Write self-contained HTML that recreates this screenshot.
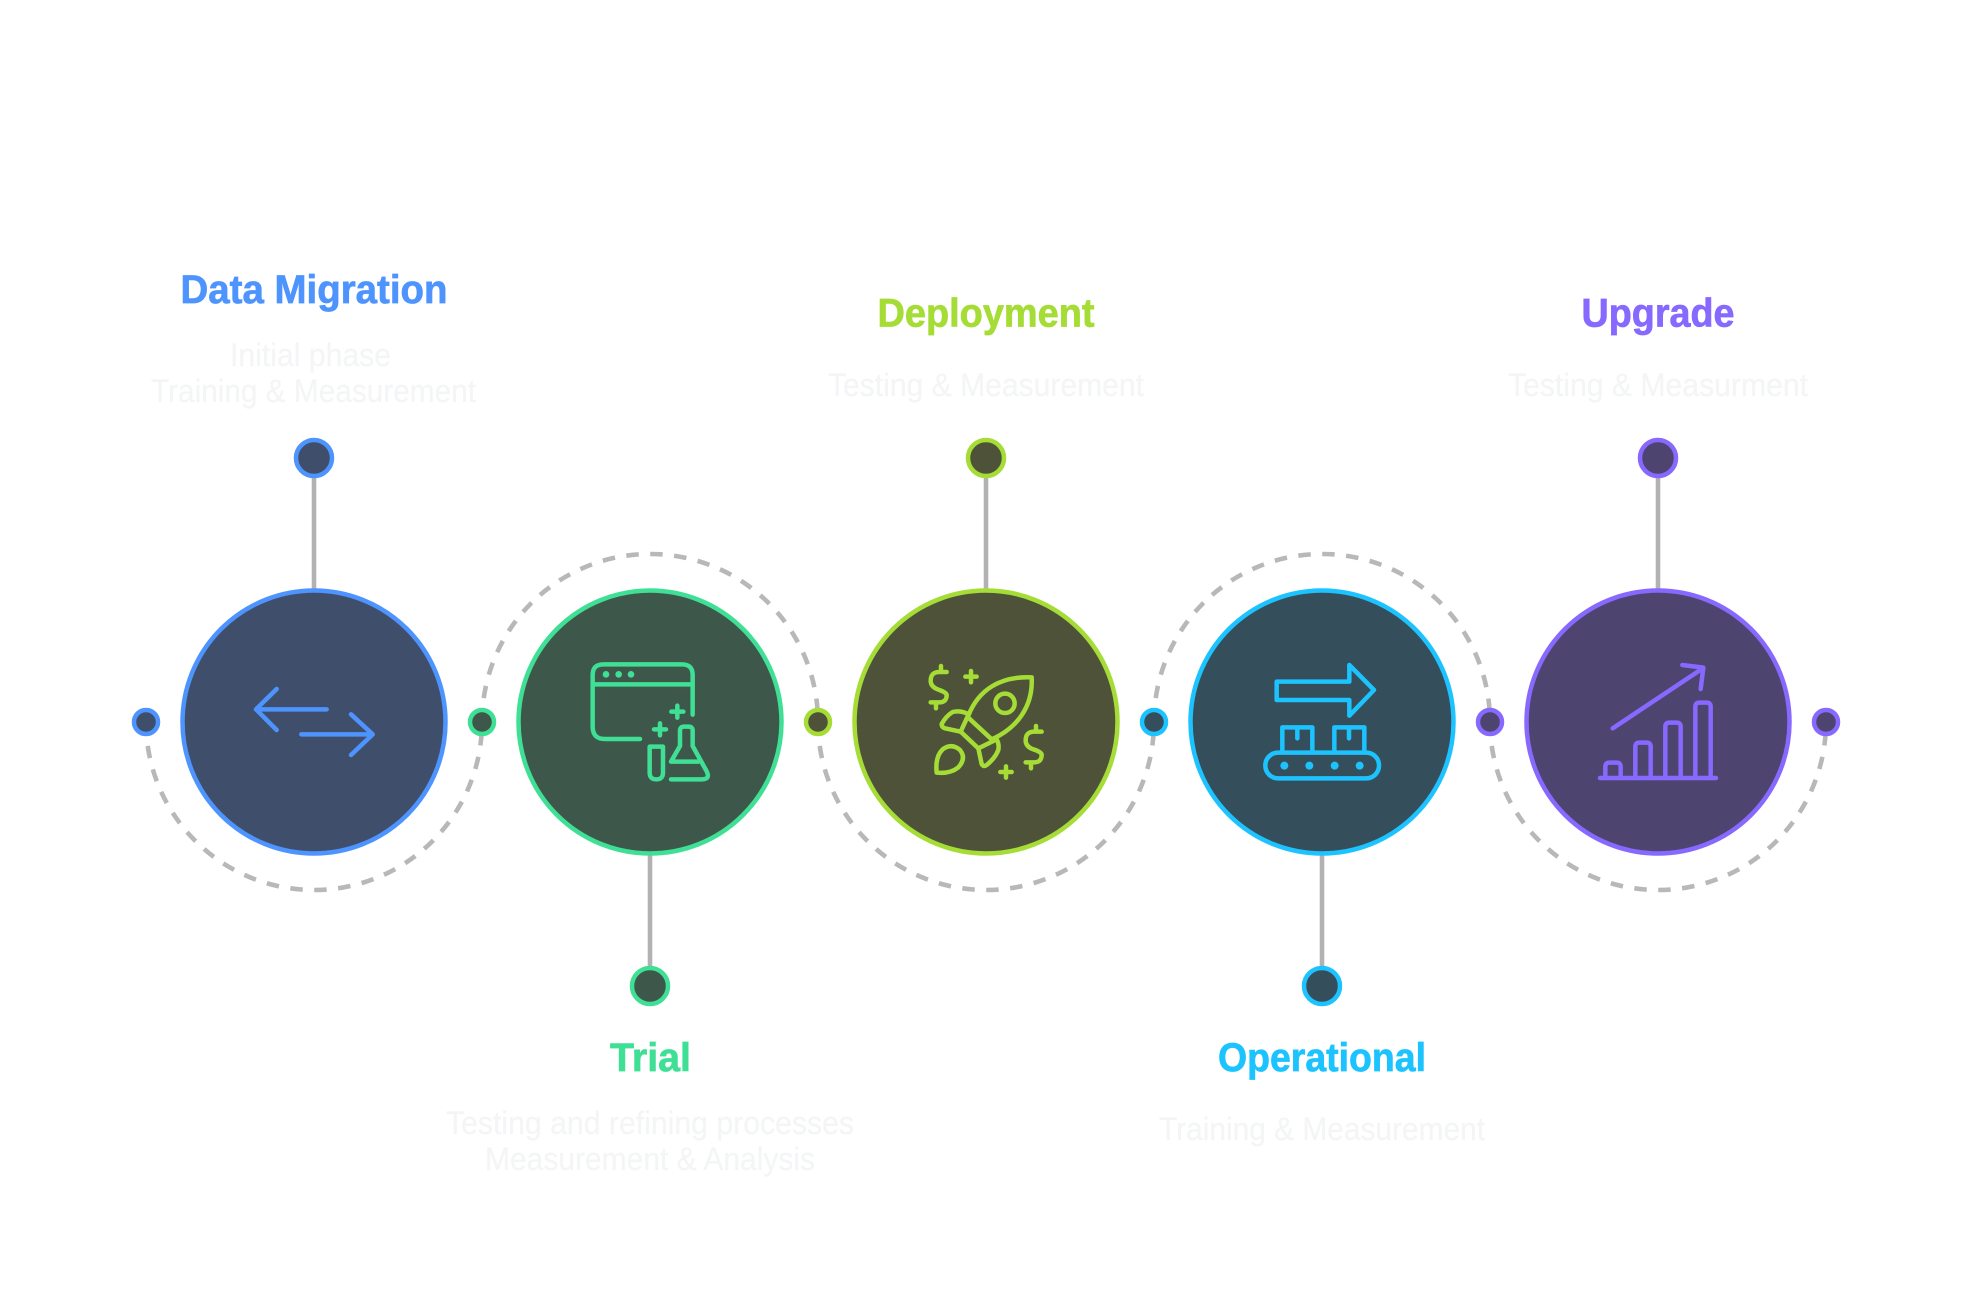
<!DOCTYPE html>
<html lang="en">
<head>
<meta charset="utf-8">
<title>Data Migration Timeline</title>
<style>
html,body{margin:0;padding:0;background:#fff;width:1972px;height:1300px;overflow:hidden}
svg{display:block}
text{font-family:"Liberation Sans",Arial,sans-serif}
.h{font-size:40px;font-weight:700;stroke-width:.7px}
.d{font-size:32px;fill:#F4F5F6;stroke:#F4F5F6;stroke-width:.3px}
.ic{fill:none;stroke-width:13.5;stroke-linecap:round;stroke-linejoin:round}
</style>
</head>
<body>
<svg width="1972" height="1300" viewBox="0 0 1972 1300" xmlns="http://www.w3.org/2000/svg">
<rect width="1972" height="1300" fill="#fff"/>

<!-- dashed arcs -->
<g fill="none" stroke="#B8B8B8" stroke-width="4.6" stroke-dasharray="12.5 11.5">
<path d="M146 722A168 168 0 0 0 482 722"/>
<path d="M482 722A168 168 0 0 1 818 722"/>
<path d="M818 722A168 168 0 0 0 1154 722"/>
<path d="M1154 722A168 168 0 0 1 1490 722"/>
<path d="M1490 722A168 168 0 0 0 1826 722"/>
</g>

<!-- stems -->
<g stroke="#B2B2B2" stroke-width="4.6">
<line x1="314" y1="476" x2="314" y2="590"/>
<line x1="650" y1="854" x2="650" y2="968"/>
<line x1="986" y1="476" x2="986" y2="590"/>
<line x1="1322" y1="854" x2="1322" y2="968"/>
<line x1="1658" y1="476" x2="1658" y2="590"/>
</g>

<!-- main circles -->
<g stroke-width="4.5">
<circle cx="314" cy="722" r="131.5" fill="#3F4F6B" stroke="#4E94FF"/>
<circle cx="650" cy="722" r="131.5" fill="#3D574B" stroke="#3FE095"/>
<circle cx="986" cy="722" r="131.5" fill="#4D5239" stroke="#A5DC36"/>
<circle cx="1322" cy="722" r="131.5" fill="#344E5B" stroke="#1CC3FF"/>
<circle cx="1658" cy="722" r="131.5" fill="#4E4470" stroke="#8769FF"/>
</g>

<!-- end dots -->
<g stroke-width="4.5">
<circle cx="314" cy="458" r="18" fill="#3F4F6B" stroke="#4E94FF"/>
<circle cx="650" cy="986" r="18" fill="#3D574B" stroke="#3FE095"/>
<circle cx="986" cy="458" r="18" fill="#4D5239" stroke="#A5DC36"/>
<circle cx="1322" cy="986" r="18" fill="#344E5B" stroke="#1CC3FF"/>
<circle cx="1658" cy="458" r="18" fill="#4E4470" stroke="#8769FF"/>

<circle cx="146" cy="722" r="12" fill="#3F4F6B" stroke="#4E94FF"/>
<circle cx="482" cy="722" r="12" fill="#3D574B" stroke="#3FE095"/>
<circle cx="818" cy="722" r="12" fill="#4D5239" stroke="#A5DC36"/>
<circle cx="1154" cy="722" r="12" fill="#344E5B" stroke="#1CC3FF"/>
<circle cx="1490" cy="722" r="12" fill="#4E4470" stroke="#8769FF"/>
<circle cx="1826" cy="722" r="12" fill="#4E4470" stroke="#8769FF"/>
</g>

<!-- icon 1 -->
<g transform="translate(120 580) scale(.33333)" class="ic" stroke="#4E94FF">
<path d="M620 388H410M470 327L408 388L470 450"/>
<path d="M544 463H755M693 403L758 463L693 525"/>
</g>

<!-- icon 2 -->
<g transform="translate(560 640) scale(.33333)" class="ic" stroke="#3FE095">
<path d="M398 224V105Q398 73 366 73H130Q98 73 98 105V260Q98 297 135 297H240"/>
<path d="M98 133H398"/>
<circle cx="138" cy="103" r="10" fill="#3FE095" stroke="none"/>
<circle cx="176" cy="103" r="10" fill="#3FE095" stroke="none"/>
<circle cx="213" cy="103" r="10" fill="#3FE095" stroke="none"/>
<path d="M334 215H370M352 197V233"/>
<path d="M282 268H318M300 250V286"/>
<path d="M269 320H309V398Q309 418 289 418Q269 418 269 398Z"/>
<path d="M333 418H425Q452 418 440 394L398 318V272Q398 260 386 260H372Q360 260 360 272V318L333 365H415"/>
</g>

<!-- icon 3 -->
<g transform="translate(900 650) scale(.33333)" class="ic" stroke="#A5DC36">
<path d="M205 197C235 120 300 78 395 82C400 170 350 235 275 268"/>
<circle cx="315" cy="160" r="29"/>
<path d="M205 203L275 268M182 245L235 295M182 245L205 195M235 295L290 268"/>
<path d="M205 192Q180 180 158 186Q138 198 125 222Q125 232 135 235L182 245"/>
<path d="M235 295L245 342Q250 352 260 345Q285 325 295 300Q298 282 290 268"/>
<path d="M110 368Q105 320 128 298Q155 278 180 300Q200 325 175 352Q150 372 110 368Z"/>
<path d="M140 66H118Q92 66 92 92Q92 112 118 120Q140 128 140 135Q140 157 118 157H92M123 48V66M108 157V175"/>
<path d="M425 245H403Q377 245 377 271Q377 291 403 299Q425 307 425 314Q425 337 403 337H377M408 228V245M393 337V355"/>
<path d="M196 80H230M213 63V97"/>
<path d="M301 366H335M318 349V383"/>
</g>

<!-- icon 4 -->
<g transform="translate(1250 650) scale(.33333)" class="ic" stroke="#1CC3FF">
<path d="M80 95H298V45L372 120L298 197V150H80Z"/>
<path d="M97 306V232H187V306M253 306V232H343V306M142 232V265M297 232V265"/>
<rect x="46" y="308" width="341" height="77" rx="38"/>
<circle cx="103" cy="347" r="12" fill="#1CC3FF" stroke="none"/>
<circle cx="178" cy="347" r="12" fill="#1CC3FF" stroke="none"/>
<circle cx="254" cy="347" r="12" fill="#1CC3FF" stroke="none"/>
<circle cx="329" cy="347" r="12" fill="#1CC3FF" stroke="none"/>
</g>

<!-- icon 5 -->
<g transform="translate(1580 650) scale(.33333)" class="ic" stroke="#8769FF">
<path d="M60 384H408"/>
<path d="M76 384V350Q76 338 88 338H110Q122 338 122 350V384"/>
<path d="M166 384V290Q166 278 178 278H200Q212 278 212 290V384"/>
<path d="M256 384V230Q256 218 268 218H290Q302 218 302 230V384"/>
<path d="M346 384V170Q346 158 358 158H380Q392 158 392 170V384"/>
<path d="M98 235L368 55M307 45L370 53L362 117"/>
</g>

<!-- labels -->
<text class="h" fill="#4E94FF" stroke="#4E94FF" x="180.5" y="303" textLength="267" lengthAdjust="spacingAndGlyphs">Data Migration</text>
<text class="d" x="230" y="366" textLength="161" lengthAdjust="spacingAndGlyphs">Initial phase</text>
<text class="d" x="151" y="402" textLength="325" lengthAdjust="spacingAndGlyphs">Training &amp; Measurement</text>

<text class="h" fill="#3FE095" stroke="#3FE095" x="610" y="1071" textLength="81" lengthAdjust="spacingAndGlyphs">Trial</text>
<text class="d" x="446" y="1134" textLength="408" lengthAdjust="spacingAndGlyphs">Testing and refining processes</text>
<text class="d" x="485" y="1170" textLength="330" lengthAdjust="spacingAndGlyphs">Measurement &amp; Analysis</text>

<text class="h" fill="#A5DC36" stroke="#A5DC36" x="877.5" y="326.5" textLength="217" lengthAdjust="spacingAndGlyphs">Deployment</text>
<text class="d" x="828" y="396" textLength="316" lengthAdjust="spacingAndGlyphs">Testing &amp; Measurement</text>

<text class="h" fill="#1CC3FF" stroke="#1CC3FF" x="1218" y="1071" textLength="208" lengthAdjust="spacingAndGlyphs">Operational</text>
<text class="d" x="1159" y="1140" textLength="326" lengthAdjust="spacingAndGlyphs">Training &amp; Measurement</text>

<text class="h" fill="#8769FF" stroke="#8769FF" x="1581.5" y="326.5" textLength="153" lengthAdjust="spacingAndGlyphs">Upgrade</text>
<text class="d" x="1508" y="396" textLength="300" lengthAdjust="spacingAndGlyphs">Testing &amp; Measurment</text>
</svg>
</body>
</html>
